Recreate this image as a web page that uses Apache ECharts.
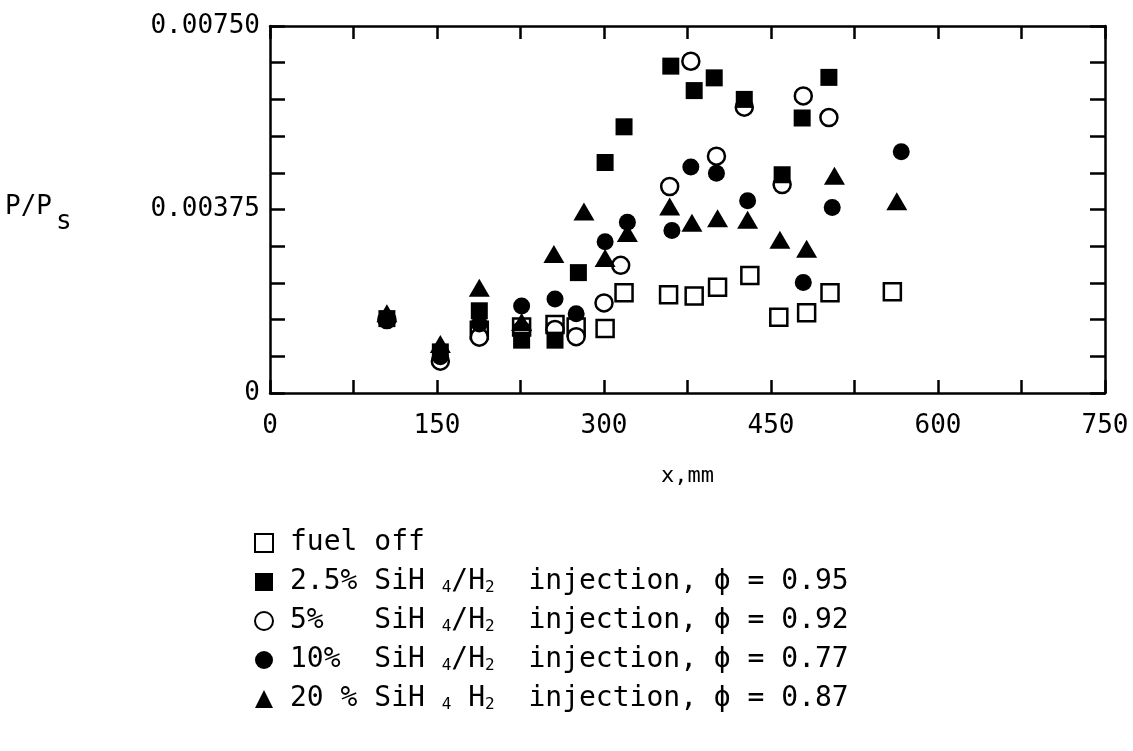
<!DOCTYPE html>
<html><head><meta charset="utf-8">
<script src="https://cdn.jsdelivr.net/npm/echarts@6/dist/echarts.min.js"></script>
<style>html,body{margin:0;padding:0;background:#fff}#c{width:1133px;height:751px}</style>
</head><body><div id="c"></div>
<script>
// ---- data (x in mm, P/Ps) ----
const xTickLabels = ['0', '150', '300', '450', '600', '750'];
const yTickValues = [0, 0.00375, 0.0075];
const yTickLabels = ['0', '0.00375', '0.00750'];

const seriesNames = [
  'fuel off',
  '2.5% SiH4/H2 injection, phi = 0.95',
  '5% SiH4/H2 injection, phi = 0.92',
  '10% SiH4/H2 injection, phi = 0.77',
  '20% SiH4 H2 injection, phi = 0.87'
];
const legendLabels = [
  'fuel off',
  '2.5% SiH {s|4}/H{s|2}  injection, ϕ = 0.95',
  '5%   SiH {s|4}/H{s|2}  injection, ϕ = 0.92',
  '10%  SiH {s|4}/H{s|2}  injection, ϕ = 0.77',
  '20 % SiH {s|4} H{s|2}  injection, ϕ = 0.87'
];

const fuelOff = [
  [188, 0.00128], [226, 0.00135], [256, 0.00140], [275, 0.00135], [301, 0.00132],
  [318, 0.00205], [358, 0.00201], [381, 0.00198], [402, 0.00216], [431, 0.00240],
  [457, 0.00155], [482, 0.00164], [503, 0.00205], [559, 0.00207]
];
const sih25 = [
  [105, 0.00152], [153, 0.00084], [188, 0.00168], [226, 0.00108], [256, 0.00108],
  [277, 0.00246], [301, 0.00471], [318, 0.00544], [360, 0.00668], [381, 0.00618],
  [399, 0.00644], [426, 0.00600], [460, 0.00446], [478, 0.00562], [502, 0.00645]
];
const sih5 = [
  [105, 0.00150], [153, 0.00065], [188, 0.00114], [226, 0.00128], [256, 0.00130],
  [275, 0.00115], [300, 0.00184], [315, 0.00261], [359, 0.00422], [378, 0.00678],
  [401, 0.00484], [426, 0.00584], [460, 0.00426], [479, 0.00607], [502, 0.00563]
];
const sih10 = [
  [105, 0.00152], [153, 0.00074], [188, 0.00141], [226, 0.00178], [256, 0.00192],
  [275, 0.00162], [301, 0.00309], [321, 0.00349], [361, 0.00332], [378, 0.00462],
  [401, 0.00449], [429, 0.00393], [479, 0.00226], [505, 0.00379], [567, 0.00493]
];
const sih20 = [
  [105, 0.00163], [153, 0.00100], [188, 0.00215], [226, 0.00145], [255, 0.00284],
  [282, 0.00371], [301, 0.00276], [321, 0.00327], [359, 0.00381], [379, 0.00348],
  [402, 0.00357], [429, 0.00354], [458, 0.00313], [482, 0.00295], [507, 0.00444],
  [563, 0.00392]
];

// ---- chart ----
const MONO = '"DejaVu Sans Mono", "Liberation Mono", monospace';
const INK = '#000';
const openStyle = { color: '#fff', borderColor: INK, borderWidth: 2.5, opacity: 1 };
const fillStyle = { color: INK, borderColor: INK, borderWidth: 0, opacity: 1 };

function xAxisCfg(pos, showLabels) {
  return {
    type: 'value', position: pos, min: 0, max: 750, interval: 75,
    axisLine: { show: true, onZero: false, lineStyle: { color: INK, width: 2.5 } },
    axisTick: { show: true, inside: true, length: 13, lineStyle: { color: INK, width: 2.5 } },
    axisLabel: {
      show: showLabels, margin: 20, fontFamily: MONO, fontSize: 26, color: INK,
      formatter: v => xTickLabels.includes(String(Math.round(v))) ? String(Math.round(v)) : ''
    },
    splitLine: { show: false },
    name: showLabels ? 'x,mm' : '', nameLocation: 'middle', nameGap: 72,
    nameTextStyle: { fontFamily: MONO, fontSize: 22, color: INK }
  };
}
function yAxisCfg(pos, showLabels) {
  return {
    type: 'value', position: pos, min: 0, max: 0.0075, interval: 0.00075,
    axisLine: { show: true, onZero: false, lineStyle: { color: INK, width: 2.5 } },
    axisTick: { show: true, inside: true, length: 15, lineStyle: { color: INK, width: 2.5 } },
    axisLabel: {
      show: showLabels, margin: 10, fontFamily: MONO, fontSize: 26, color: INK,
      formatter: v => {
        const i = yTickValues.findIndex(t => Math.abs(t - v) < 1e-9);
        return i >= 0 ? yTickLabels[i] : '';
      }
    },
    splitLine: { show: false }
  };
}

const chart = echarts.init(document.getElementById('c'), null, { renderer: 'canvas' });
const mk = (name, data, symbol, size, style) => ({
  name, type: 'scatter', data, symbol, symbolSize: size, itemStyle: style,
  xAxisIndex: 0, yAxisIndex: 0, emphasis: { disabled: true }
});
chart.setOption({
  animation: false,
  backgroundColor: '#fff',
  grid: { left: 270, right: 28, top: 26, bottom: 358, containLabel: false },
  xAxis: [xAxisCfg('bottom', true), xAxisCfg('top', false)],
  yAxis: [yAxisCfg('left', true), yAxisCfg('right', false)],
  legend: {
    orient: 'vertical', left: 249, top: 524,
    itemWidth: 18, itemHeight: 18, itemGap: 11,
    selectedMode: false,
    data: seriesNames,
    formatter: name => legendLabels[seriesNames.indexOf(name)],
    textStyle: {
      fontFamily: MONO, fontSize: 28, color: INK, lineHeight: 28, padding: [0, 0, 0, 12],
      rich: { s: { fontFamily: MONO, fontSize: 16, lineHeight: 10, verticalAlign: 'bottom', color: INK } }
    }
  },
  graphic: [
    { type: 'text', x: 5, y: 207, style: { text: 'P/P', fontFamily: MONO, fontSize: 26, fill: INK, verticalAlign: 'middle' } },
    { type: 'text', x: 56, y: 222, style: { text: 's', fontFamily: MONO, fontSize: 26, fill: INK, verticalAlign: 'middle' } }
  ],
  series: [
    mk(seriesNames[0], fuelOff, 'rect', 17, openStyle),
    mk(seriesNames[2], sih5, 'circle', 17, openStyle),
    mk(seriesNames[1], sih25, 'rect', 17, fillStyle),
    mk(seriesNames[3], sih10, 'circle', 17, fillStyle),
    mk(seriesNames[4], sih20, 'triangle', [21, 18], fillStyle)
  ]
});
</script></body></html>
